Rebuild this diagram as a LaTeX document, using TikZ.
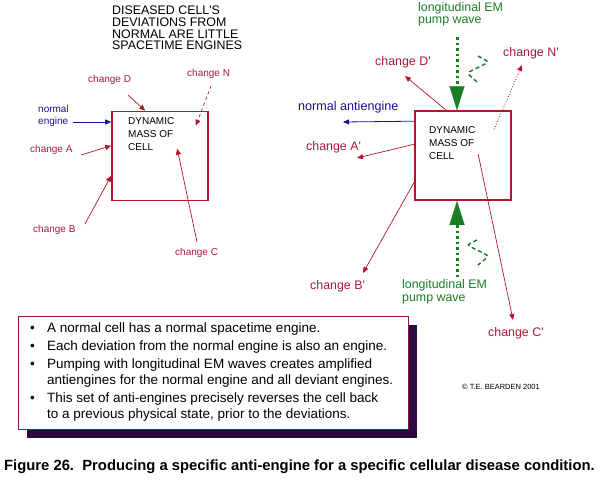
\documentclass[tikz,border=0pt]{standalone}
\usepackage{fontspec}
\setmainfont{Liberation Sans}
\usetikzlibrary{arrows.meta,calc,shadows}
\definecolor{cellred}{RGB}{180,20,45}
\definecolor{labelred}{RGB}{170,25,55}
\definecolor{navy}{RGB}{20,20,140}
\definecolor{pumpgreen}{RGB}{25,125,35}
\definecolor{notesborder}{RGB}{140,20,70}
\definecolor{shadowpurple}{RGB}{45,10,65}

\begin{document}
\begin{tikzpicture}[x=1pt,y=-1pt,
			% Define styles for nodes
			every node/.style={inner sep=0pt, anchor=west},
			cellbox/.style={draw=cellred, line width=1.6pt, minimum width=96pt, minimum height=89pt, anchor=center},
			masstext/.style={font=\fontsize{10}{13.3}\selectfont, align=left, anchor=north west},
			leftlabel/.style={text=labelred, font=\fontsize{10}{12}\selectfont},
			rightlabel/.style={text=labelred, font=\fontsize{12.4}{14}\selectfont},
			pumptext/.style={text=pumpgreen, font=\fontsize{12.4}{12.5}\selectfont, align=left},
			% Define styles for connectors
			change/.style={draw=cellred, line width=0.7pt, -{Triangle[length=6pt,width=5pt]}},
			normal/.style={draw=navy, line width=0.8pt, -{Triangle[length=6pt,width=5pt]}},
			pump/.style={draw=pumpgreen, line width=3pt, dash pattern=on 2.5pt off 3pt, -{Triangle[length=24pt,width=15pt,line width=0.1pt]}},
			wave/.style={draw=pumpgreen, line width=1.5pt, dash pattern=on 4pt off 3pt}
		]
		\useasboundingbox (0,0) rectangle (600,480);

		% Title
		\node[anchor=north west, align=left, font=\fontsize{12.4}{11.6}\selectfont] (title) at (112,6) {DISEASED CELL\textquotesingle S\\DEVIATIONS FROM\\NORMAL ARE LITTLE\\SPACETIME ENGINES};

		% Left cell
		\node[cellbox] (cell) at (160,156) {};
		\node[masstext] (mass) at (128,117) {DYNAMIC\\MASS OF\\CELL};
		\node[text=navy, font=\fontsize{10}{12}\selectfont, align=left] (eng) at (38,116) {normal\\engine};
		\node[leftlabel] (chD) at (88,80) {change D};
		\node[leftlabel] (chN) at (187,74) {change N};
		\node[leftlabel] (chA) at (30,150) {change A};
		\node[leftlabel] (chB) at (33,230) {change B};
		\node[leftlabel] (chC) at (175,253) {change C};
		\coordinate (engS) at (73,122);
		\coordinate (chDs) at (128,95);
		\coordinate (chNs) at (211,86);
		\coordinate (chAs) at (81,155);
		\coordinate (chBs) at (85,224);
		\coordinate (chCs) at (197,242);
		\draw[normal] (engS) -- (engS -| cell.west);
		\draw[change] (chDs) -- ($(cell.north west)+(34,0)$);
		\draw[change, dashed] (chNs) -- ($(cell.north east)+(-13,15)$);
		\draw[change] (chAs) -- ($(cell.north west)+(0,35)$);
		\draw[change] (chBs) -- ($(cell.north west)+(0,65)$);
		\draw[change] (chCs) -- ($(cell.north west)+(66,38)$);

		% Right cell
		\node[cellbox] (acell) at (463,155.5) {};
		\node[masstext] (amass) at (429,126) {DYNAMIC\\MASS OF\\CELL};
		\node[text=navy, font=\fontsize{12.6}{14}\selectfont] (anti) at (298,107) {normal antiengine};
		\node[rightlabel] (chDp) at (375,62) {change D\textquotesingle};
		\node[rightlabel] (chNp) at (503,53) {change N\textquotesingle};
		\node[rightlabel] (chAp) at (306,147) {change A\textquotesingle};
		\node[rightlabel] (chBp) at (310,286) {change B\textquotesingle};
		\node[rightlabel] (chCp) at (488,333) {change C\textquotesingle};
		\coordinate (antiE) at (343,122);
		\coordinate (chDpE) at (405,76);
		\coordinate (chNpE) at (522,65);
		\coordinate (chApE) at (357,158);
		\coordinate (chBpE) at (363,273);
		\coordinate (chCpE) at (513,320);
		\draw[normal] ($(acell.north west)+(0,11)$) -- (antiE);
		\draw[change] ($(acell.north west)+(32,0)$) -- (chDpE);
		\draw[change, dotted, line width=1pt] ($(acell.north west)+(80,19)$) -- (chNpE);
		\draw[change] ($(acell.north west)+(0,34)$) -- (chApE);
		\draw[change] ($(acell.north west)+(0,72)$) -- (chBpE);
		\draw[change] ($(acell.north west)+(64,44)$) -- (chCpE);

		% Pump waves
		\node[pumptext, anchor=north west] (pumpT) at (418,2) {longitudinal EM\\pump wave};
		\node[pumptext] (pumpB) at (402,292) {longitudinal EM\\pump wave};
		\coordinate (pT) at (457,37);
		\coordinate (pB) at (457,277);
		\draw[pump] (pT) -- (pT |- acell.north);
		\draw[pump] (pB) -- (pB |- acell.south);
		\draw[wave, rounded corners=3pt] (478,56) -- (489,62) -- (467,73) -- (477,82);
		\draw[wave, rounded corners=3pt] (477,240) -- (467,245) -- (489,256) -- (478,265);

		% Notes
		\node[draw=notesborder, line width=1pt, fill=white, anchor=north west, minimum width=390pt, minimum height=113pt,
			drop shadow={shadow xshift=8pt, shadow yshift=-8pt, fill=shadowpurple, opacity=1}] (notes) at (18,316) {};
		\node[anchor=north west, align=left, font=\fontsize{13.5}{16}\selectfont] (list) at (30,321) {%
			\begin{tabular}{@{}l@{}l@{}}
				\makebox[17pt][l]{\textbullet} & A normal cell has a normal spacetime engine.\\[2pt]
				\makebox[17pt][l]{\textbullet} & Each deviation from the normal engine is also an engine.\\[2pt]
				\makebox[17pt][l]{\textbullet} & Pumping with longitudinal EM waves creates amplified\\
				& antiengines for the normal engine and all deviant engines.\\[2pt]
				\makebox[17pt][l]{\textbullet} & This set of anti-engines precisely reverses the cell back\\
				& to a previous physical state, prior to the deviations.
			\end{tabular}};
		\node[font=\fontsize{7.5}{9}\selectfont] (copy) at (462,387) {\textcopyright{} T.E. BEARDEN 2001};

		% Caption
		\node[font=\bfseries\fontsize{14.8}{17}\selectfont] (caption) at (4,467) {Figure 26.\ \ Producing a specific anti-engine for a specific cellular disease condition.};
	\end{tikzpicture}
\end{document}
